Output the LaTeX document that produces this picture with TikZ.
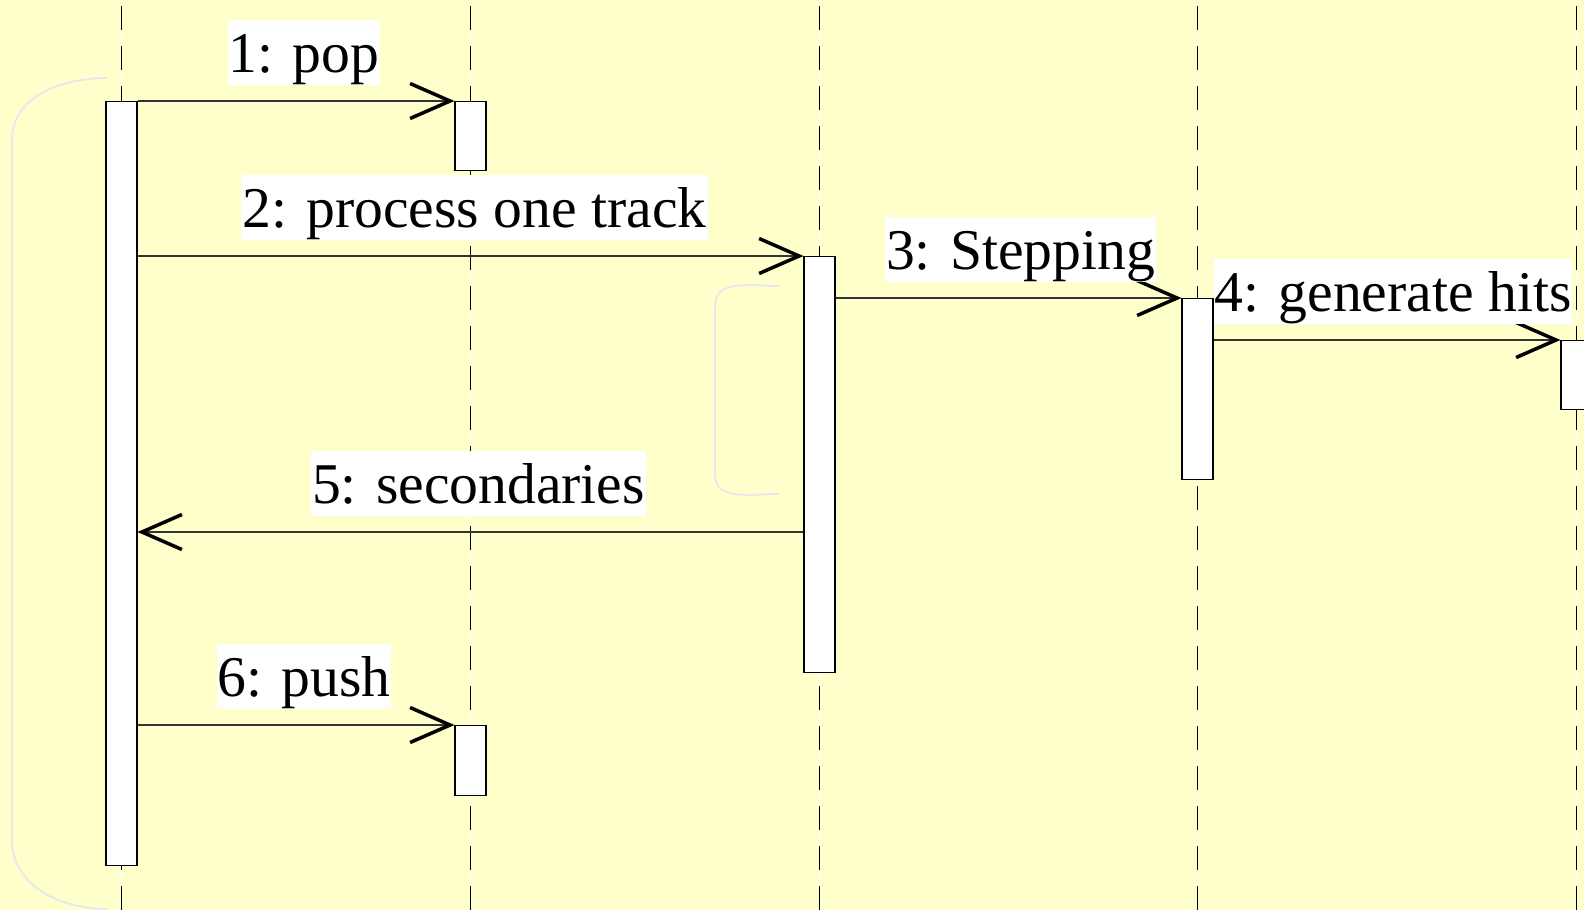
\documentclass[tikz,border=0pt]{standalone}
\usepackage{fontspec}
\setmainfont{Liberation Serif}
\usetikzlibrary{arrows.meta,positioning}
\definecolor{Paper}{HTML}{FFFFCC}
\definecolor{Ink}{HTML}{333333}
\definecolor{Frame}{HTML}{E8E8EC}

\begin{document}
\begin{tikzpicture}[
  lane/.style={line width=0.6pt,draw=black,dash pattern=on 0.48cm off 0.32cm,preaction={draw=white,solid,line width=0.5pt}},
  act/.style={draw=black,fill=white,line width=0.6pt,minimum width=0.62cm,inner sep=0pt,anchor=north},
  msg/.style={-{Straight Barb[length=0.8cm,width=0.7cm,line width=2pt,color=black]},line width=0.6pt,draw=Ink},
  lbl/.style={fill=white,inner xsep=0.02cm,inner ysep=0pt,text height=1.04cm,text depth=0.26cm,font=\fontsize{32.8}{38}\selectfont,above=0.3cm,xshift=0.16cm},
  frag/.style={draw=Frame,line width=1.1pt}
]
\useasboundingbox (0,0) rectangle (31.68,-18.20);
\fill[Paper] (0,0) rectangle (31.68,-18.20);
% lifelines
\draw[lane] (2.43,-0.12) -- (2.43,-18.20);
\draw[lane] (9.41,-0.12) -- (9.41,-18.20);
\draw[lane] (16.39,-0.12) -- (16.39,-18.20);
\draw[lane] (23.95,-0.12) -- (23.95,-18.20);
\draw[lane] (31.53,-0.12) -- (31.53,-18.20);
% loop frames
\draw[frag] (2.14,-1.56) to[out=180,in=90] (0.24,-2.80) -- (0.24,-16.80) to[out=-90,in=180] (2.14,-18.18);
\draw[frag] (15.58,-5.72) to[out=180,in=90] (14.30,-6.10) -- (14.30,-9.50) to[out=-90,in=180] (15.58,-9.88);
% activations
\node[act,minimum height=15.28cm] (main) at (2.43,-2.02) {};
\node[act,minimum height=1.38cm] (pop) at (9.41,-2.02) {};
\node[act,minimum height=8.32cm] (track) at (16.39,-5.12) {};
\node[act,minimum height=3.62cm] (step) at (23.95,-5.96) {};
\node[act,minimum height=1.38cm] (hits) at (31.53,-6.80) {};
\node[act,minimum height=1.40cm] (push) at (9.41,-14.50) {};
\coordinate (sec) at (0,-10.64);
% messages
\draw[msg] (main.north east) -- node[lbl]{1: pop} (pop.north west);
\draw[msg] (main.east |- track.north) -- node[lbl,xshift=-0.08cm]{2: process one track} (track.north west);
\draw[msg] (track.east |- step.north) -- node[lbl,xshift=0.08cm]{3: Stepping} (step.north west);
\draw[msg] (step.east |- hits.north) -- node[lbl,xshift=-0.04cm]{4: generate hits} (hits.north west);
\draw[msg] (track.west |- sec) -- node[lbl]{5: secondaries} (main.east |- sec);
\draw[msg] (main.east |- push.north) -- node[lbl]{6: push} (push.north west);
\end{tikzpicture}
\end{document}
